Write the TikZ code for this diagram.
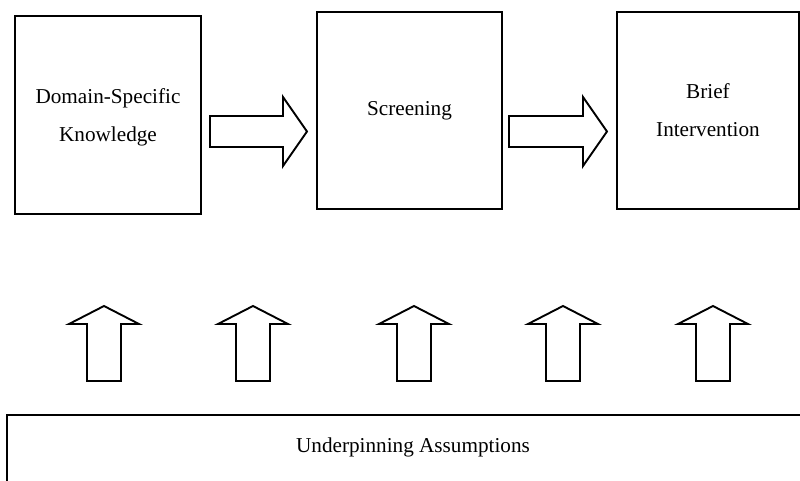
\documentclass[tikz,border=0pt]{standalone}
\usepackage{fontspec}
\setmainfont{Liberation Serif}
\begin{document}
\begin{tikzpicture}[x=0.5pt,y=-0.5pt,
  every node/.style={inner sep=0pt, outer sep=0pt},
  boxnode/.style={draw, line width=0.95pt, rectangle, align=center,
    font=\fontsize{10.6pt}{19pt}\selectfont},
  blockarrow/.style={draw, line width=0.95pt, line join=miter, fill=white},
  lbl/.style={font=\fontsize{10.6pt}{19pt}\selectfont, align=center}]
\useasboundingbox (0,0) rectangle (800,481);
\clip (0,0) rectangle (800,481);
% main boxes
\node[boxnode, minimum width=93pt, minimum height=99pt] (dsk) at (108,115) {};
\node[lbl] at ([yshift=-1pt]dsk.center) {Domain-Specific\\Knowledge};
\node[boxnode, minimum width=92.5pt, minimum height=98.5pt] (scr) at (409.5,110.5) {};
\node[lbl] at (scr.center) {Screening};
\node[boxnode, minimum width=91pt, minimum height=98.5pt] (bi) at (708,110.5) {};
\node[lbl] at (bi.center) {Brief\\Intervention};
% bottom box (runs off the page)
\node[draw, line width=0.95pt, anchor=north west, minimum width=420pt, minimum height=60pt] (ua) at (7,415) {};
\node[lbl] (ualbl) at (413,447) {Underpinning Assumptions};
% right block arrows
\draw[blockarrow] (210,116) -- (283,116) -- (283,97) -- (307,131.5) -- (283,166) -- (283,147) -- (210,147) -- cycle;
\draw[blockarrow] (509,116) -- (583,116) -- (583,97) -- (607,131.5) -- (583,166) -- (583,147) -- (509,147) -- cycle;
% up block arrows
\foreach \cx in {104,253,414,563,713}{
  \draw[blockarrow] (\cx-17,381) -- (\cx-17,324) -- (\cx-35,324) -- (\cx,306) -- (\cx+35,324) -- (\cx+17,324) -- (\cx+17,381) -- cycle;
}
\end{tikzpicture}
\end{document}
